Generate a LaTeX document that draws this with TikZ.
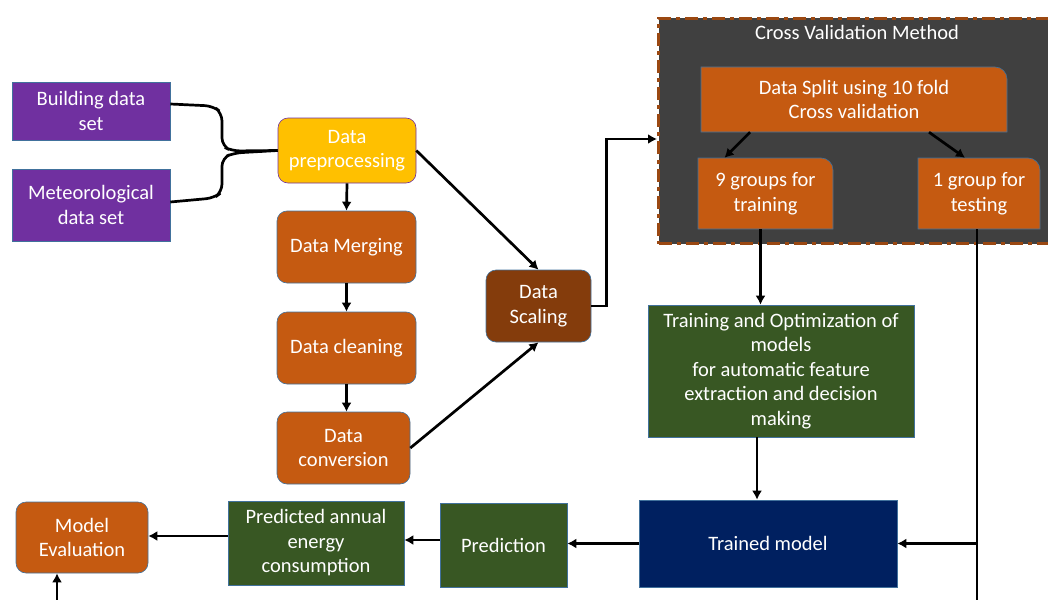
\documentclass[tikz,border=0pt]{standalone}
\usepackage{fontspec}
\setmainfont{Carlito}
\usetikzlibrary{arrows.meta}
\definecolor{setpurple}{HTML}{7030A0}
\definecolor{preyellow}{HTML}{FFC000}
\definecolor{steporange}{HTML}{C55A11}
\definecolor{scalebrown}{HTML}{843C0C}
\definecolor{cvgray}{HTML}{404040}
\definecolor{cvframe}{HTML}{9A4812}
\definecolor{modelgreen}{HTML}{385723}
\definecolor{modelnavy}{HTML}{002060}
\definecolor{edgeblue}{HTML}{41719C}
% orange box with only its top right corner rounded
\newcommand{\cvshape}[4]{\filldraw[fill=steporange, draw=edgeblue, line width=.6pt]
  (#1,#4) -- (#1,#2) -- ({#3-12},#2) arc[start angle=-90, end angle=0, radius=12] -- (#3,#4) -- cycle;}
\begin{document}
\begin{tikzpicture}[x=1pt, y=-1pt,
    box/.style={text=white, align=center, font=\fontsize{20.5}{24.5}\selectfont, inner sep=0pt},
    setbox/.style={box, fill=setpurple, draw=edgeblue, line width=.6pt},
    stepbox/.style={box, fill=steporange, draw=edgeblue, line width=.6pt, rounded corners=10pt},
    modelbox/.style={box, fill=modelgreen, draw=edgeblue, line width=.6pt},
    link/.style={line width=2.7pt, -{Latex[length=9pt,width=10pt]}}]
	\useasboundingbox (0,0) rectangle (1048,599);
	% cross validation frame
	\node[fill=cvgray, draw=cvframe, line width=3pt, dash pattern=on 13pt off 5pt on 4pt off 5pt,
	      minimum width=420, minimum height=225, anchor=north west] (cv) at (657,17) {};
	\node[box] (cvtitle) at (857,32) {Cross Validation Method};
	\cvshape{701}{67}{1007}{132}
	\cvshape{698}{158}{833}{229}
	\cvshape{918}{158}{1040}{229}
	\node[box, minimum width=306, minimum height=65] (split) at (854,99.5) {Data Split using 10 fold\\Cross validation};
	\node[box, minimum width=135, minimum height=71] (nine) at (765.5,193.5) {9 groups for\\training};
	\node[box, minimum width=122, minimum height=71] (one) at (979,193.5) {1 group for\\testing};
	% data preparation
	\node[setbox, minimum width=158, minimum height=58] (bld) at (91,111) {Building data\\set};
	\node[setbox, minimum width=158, minimum height=72] (met) at (91,205) {Meteorological\\data set};
	\node[stepbox, fill=preyellow, draw=setpurple, minimum width=138, minimum height=65] (pre) at (347,150.5) {Data\\preprocessing};
	\node[stepbox, minimum width=139, minimum height=72] (mrg) at (346.5,247) {Data Merging};
	\node[stepbox, minimum width=139, minimum height=72] (cln) at (346.5,348) {Data cleaning};
	\node[stepbox, minimum width=133, minimum height=72] (cnv) at (343.5,448) {Data\\conversion};
	\node[stepbox, fill=scalebrown, minimum width=105, minimum height=72] (scl) at (538.5,306) {Data\\Scaling};
	% models
	\node[modelbox, minimum width=266, minimum height=132] (trn) at (781,371) {Training and Optimization of\\models\\for automatic feature\\extraction and decision\\making};
	\node[box, fill=modelnavy, draw=edgeblue, line width=.6pt, minimum width=258, minimum height=87] (tm) at (768,543.5) {Trained model};
	\node[modelbox, minimum width=127, minimum height=84] (prd) at (503.5,545) {Prediction};
	\node[modelbox, minimum width=176, minimum height=84] (pae) at (316,543) {Predicted annual\\energy\\consumption};
	\node[stepbox, minimum width=132, minimum height=71] (me) at (82,537.5) {Model\\Evaluation};
	\coordinate (evin) at (57,610);
	\coordinate (testend) at (977,610);
	% connectors
	\draw[line width=2.7pt, rounded corners=8pt] ([yshift=7pt]bld.east) -- (213,106) -- (222,113) -- (222,146) -- (232,151) -- (pre.west);
	\draw[line width=2.7pt, rounded corners=8pt] ([yshift=3pt]met.east) -- (214,198) -- (222,192) -- (222,158) -- (234,153) -- (pre.west);
	\draw[link] (pre.south) -- (mrg.north);
	\draw[link] (mrg.south) -- (cln.north);
	\draw[link] (cln.south) -- (cln.south |- cnv.north);
	\draw[link] (pre.east) -- (scl.north);
	\draw[link] (cnv.east) -- (scl.south);
	\draw[link] (scl.east) -- ++(15,0) |- (cv.west |- 0,139);
	\draw[link] ([xshift=-104pt]split.south) -- ([xshift=-41pt]nine.north);
	\draw[link] ([xshift=75pt]split.south) -- ([xshift=-14pt]one.north);
	\draw[link] ([xshift=-5pt]nine.south) -- ([xshift=-5pt]nine.south |- trn.north);
	\draw[link] ([xshift=-11pt]tm.north |- trn.south) -- ([xshift=-11pt]tm.north);
	\draw[line width=2.7pt] ([xshift=-2pt]one.south) -- (testend);
	\draw[link] (testend |- tm.east) -- (tm.east);
	\draw[link] (tm.west) -- (tm.west -| prd.east);
	\draw[link] ([yshift=5pt]prd.west) -- ([yshift=5pt]prd.west -| pae.east);
	\draw[link] ([yshift=7pt]pae.west) -- ([yshift=7pt]pae.west -| me.east);
	\draw[link] (evin) -- (evin |- me.south);
\end{tikzpicture}
\end{document}
